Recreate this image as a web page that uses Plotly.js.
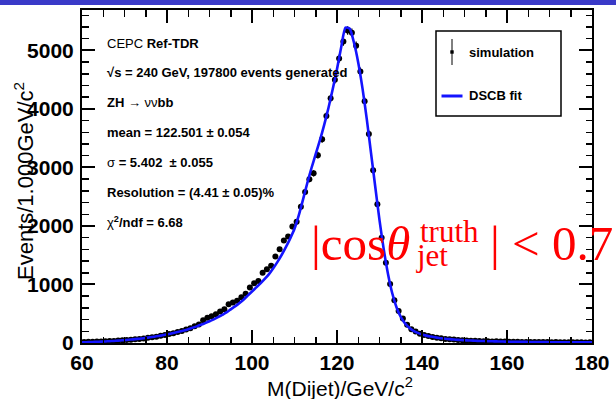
<!DOCTYPE html>
<html>
<head>
<meta charset="utf-8">
<script src="https://cdn.plot.ly/plotly-3.0.1.min.js"></script>
<style>html,body{margin:0;padding:0;background:#fff;}#chart{width:616px;height:399px;}</style>
</head>
<body>
<div id="chart"></div>
<script>
// ---- data ----
const binLow = 60;      // first bin lower edge (GeV/c^2)
const binWidth = 1;     // bin width (GeV/c^2)
const simCounts = [
 18,22,20,26,24,30,33,36,42,45,
 52,55,64,70,79,88,98,108,122,135,
 152,168,190,205,232,252,285,318,390,430,
 455,490,540,575,660,690,720,780,840,950,
 1020,1060,1200,1260,1320,1480,1600,1750,1820,1990,
 2070,2330,2580,2800,2900,3210,3480,3880,4180,4500,
 4860,5150,5340,5300,5080,4640,4130,3570,2950,2370,
 1800,1370,1010,730,545,420,310,235,195,160,
 138,118,104,90,80,70,62,58,52,47,
 42,40,37,33,32,30,27,28,24,25,
 22,21,22,19,18,19,16,17,15,16,
 14,15,13,13,12,13,11,12,10,11
];
const fitMass = [
 60,61,62,63,64,65,66,67,68,69,70,71,72,73,74,75,76,77,78,79,
 80,81,82,83,84,85,86,87,88,89,90,91,92,93,94,95,96,97,98,99,
 100,101,102,103,104,105,106,107,108,109,110,111,112,113,114,115,116,117,118,119,
 120,121,122,123,124,125,126,127,128,129,130,131,132,133,134,135,136,137,138,139,
 140,141,142,143,144,145,146,147,148,149,150,151,152,153,154,155,156,157,158,159,
 160,161,162,163,164,165,166,167,168,169,170,171,172,173,174,175,176,177,178,179,180
];
const fitValues = [
 12,14,16,19,22,25,29,33,38,43,49,55,62,70,78,87,97,108,120,133,
 147,162,178,196,215,236,259,284,311,340,371,405,441,480,522,575,625,680,740,810,
 880,950,1020,1095,1177,1277,1387,1508,1641,1788,1951,2180,2450,2730,2990,3230,3470,3730,4020,4340,
 4680,5060,5390,5370,5130,4790,4350,3830,3250,2670,2100,1600,1180,850,610,445,335,260,208,172,
 146,126,110,97,86,77,69,62,56,51,47,43,40,37,34,32,30,28,26,25,
 23,22,21,20,19,18,17,16,16,15,14,14,13,13,12,12,11,11,11,10,10
];
const xTitle = 'M(Dijet)/GeV/c<sup>2</sup>';
const yTitle = 'Events/1.000GeV/c<sup>2</sup>';
const statLines = [
  'CEPC <b>Ref-TDR</b>',
  '<b>√s = 240 GeV, 197800 events generated</b>',
  '<b>ZH</b> → νν<b>bb</b>',
  '<b>mean = 122.501 ± 0.054</b>',
  'σ <b>= 5.402  ± 0.055</b>',
  '<b>Resolution = (4.41 ± 0.05)%</b>',
  'χ<b><sup>2</sup>/ndf = 6.68</b>'
];
const legendLabels = ['simulation', 'DSCB fit'];

// ---- build ----
const binCenters = simCounts.map((_, i) => binLow + binWidth * (i + 0.5));

const W = 616, H = 399;
const L = 82, R = 24, T = 10, B = 56;
const pw = W - L - R, ph = H - T - B;
const px = v => (v - L) / pw;
const py = v => (H - B - v) / ph;

const sans = 'Liberation Sans, Arial, Helvetica, sans-serif';
const serif = 'Liberation Serif, Times New Roman, serif';

const traces = [
  {
    x: binCenters, y: simCounts, type: 'scatter', mode: 'markers',
    marker: {color: '#000', size: 6, symbol: 'circle'},
    error_y: {type: 'sqrt', visible: true, color: '#000', thickness: 1.2, width: 0},
    showlegend: false, hoverinfo: 'skip'
  },
  {
    x: fitMass, y: fitValues, type: 'scatter', mode: 'lines',
    line: {color: '#1414ff', width: 2.6, shape: 'spline', smoothing: 0.6},
    showlegend: false, hoverinfo: 'skip'
  }
];

const annotations = [];
const statY = [43.5, 72.5, 102.5, 132.3, 162.3, 192.3, 222.3];
statLines.forEach((t, i) => {
  annotations.push({xref: 'paper', yref: 'paper', x: px(105), y: py(statY[i]),
    xanchor: 'left', yanchor: 'middle', showarrow: false, text: t,
    font: {family: sans, size: 13, color: '#000'}});
});
// legend texts
annotations.push({xref: 'paper', yref: 'paper', x: px(467), y: py(52), xanchor: 'left', yanchor: 'middle',
  showarrow: false, text: '<b>' + legendLabels[0] + '</b>', font: {family: sans, size: 13, color: '#000'}});
annotations.push({xref: 'paper', yref: 'paper', x: px(467), y: py(96), xanchor: 'left', yanchor: 'middle',
  showarrow: false, text: '<b>' + legendLabels[1] + '</b>', font: {family: sans, size: 13, color: '#000'}});
// axis titles
annotations.push({xref: 'paper', yref: 'paper', x: px(340), y: py(387), xanchor: 'center', yanchor: 'middle',
  showarrow: false, text: xTitle, font: {family: sans, size: 21, color: '#000'}});
annotations.push({xref: 'paper', yref: 'paper', x: px(24), y: py(181), xanchor: 'center', yanchor: 'middle',
  showarrow: false, textangle: -90, text: yTitle, font: {family: sans, size: 22, color: '#000'}});
// red label
const red = '#ff0000';
annotations.push({xref: 'paper', yref: 'paper', x: px(309), y: py(244), xanchor: 'left', yanchor: 'middle',
  showarrow: false, text: '|cos<i>θ</i>', font: {family: serif, size: 49, color: red}});
annotations.push({xref: 'paper', yref: 'paper', x: px(418), y: py(231), xanchor: 'left', yanchor: 'middle',
  showarrow: false, text: 'truth', font: {family: serif, size: 31, color: red}});
annotations.push({xref: 'paper', yref: 'paper', x: px(414), y: py(255), xanchor: 'left', yanchor: 'middle',
  showarrow: false, text: 'jet', font: {family: serif, size: 31, color: red}});
annotations.push({xref: 'paper', yref: 'paper', x: px(488), y: py(244), xanchor: 'left', yanchor: 'middle',
  showarrow: false, text: '| &lt; 0.7', font: {family: serif, size: 49, color: red}});

const shapes = [
  // slide header bar
  {type: 'rect', xref: 'paper', yref: 'paper', x0: px(0), x1: px(616), y0: py(5), y1: py(0),
   fillcolor: '#3a3ac8', line: {width: 0}, layer: 'above'},
  // legend box
  {type: 'rect', xref: 'paper', yref: 'paper', x0: px(436), x1: px(561), y0: py(116), y1: py(31),
   fillcolor: '#fff', line: {color: '#000', width: 1.5}, layer: 'above'},
  {type: 'line', xref: 'paper', yref: 'paper', x0: px(452), x1: px(452), y0: py(65), y1: py(39),
   line: {color: '#000', width: 1}, layer: 'above'},
  {type: 'rect', xref: 'paper', yref: 'paper', x0: px(450.3), x1: px(453.7), y0: py(53.7), y1: py(50.3),
   fillcolor: '#000', line: {width: 0}, layer: 'above'},
  {type: 'line', xref: 'paper', yref: 'paper', x0: px(441.5), x1: px(462.5), y0: py(96), y1: py(96),
   line: {color: '#1414ff', width: 3}, layer: 'above'}
];

const axisCommon = {
  showgrid: false, zeroline: false, showline: true, linecolor: '#000', linewidth: 2,
  mirror: 'ticks', ticks: 'inside', ticklen: 13, tickwidth: 2, tickcolor: '#000',
  tickfont: {family: sans, size: 21, color: '#000', weight: 'bold'}
};

const layout = {
  width: W, height: H,
  margin: {l: L, r: R, t: T, b: B, pad: 0},
  paper_bgcolor: '#fff', plot_bgcolor: '#fff',
  showlegend: false,
  xaxis: Object.assign({}, axisCommon, {
    range: [60, 180], tickmode: 'linear', tick0: 60, dtick: 20, ticklabelstandoff: 0,
    minor: {ticks: 'inside', ticklen: 6.5, tickwidth: 1.5, tickcolor: '#000', dtick: 5, tick0: 60, showgrid: false}
  }),
  yaxis: Object.assign({}, axisCommon, {
    range: [0, 5690], tickmode: 'linear', tick0: 0, dtick: 1000, ticklabelstandoff: 2,
    minor: {ticks: 'inside', ticklen: 6.5, tickwidth: 1.5, tickcolor: '#000', dtick: 200, tick0: 0, showgrid: false}
  }),
  annotations: annotations,
  shapes: shapes
};

Plotly.newPlot('chart', traces, layout, {staticPlot: true, displayModeBar: false});
</script>
</body>
</html>
